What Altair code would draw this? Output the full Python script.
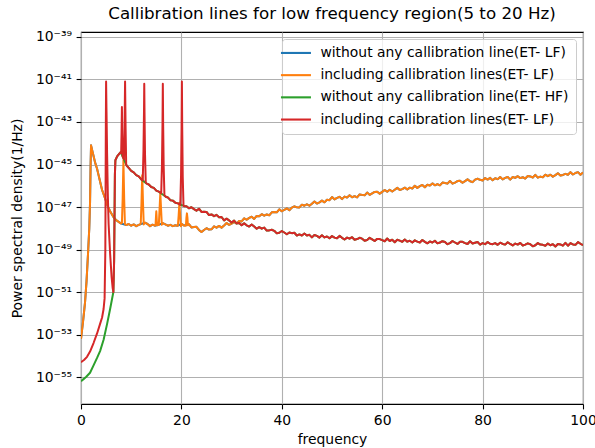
import altair as alt
import pandas as pd

# ---------------- data (frequency in Hz, PSD given as log10 exponent) ----------------
# ET-LF without calibration lines, 0 - 21 Hz
lf_low_freq = [0, 0.4, 0.8, 1.1, 1.4, 1.65, 1.8, 1.9, 2.0, 2.2,
               2.5, 2.8, 3.2, 3.5, 3.8, 4.2, 4.8, 5.3, 5.8, 6.4,
               7.0, 7.5, 8.0, 9.0, 9.5, 10.0, 10.5, 11.0, 11.5, 12.75,
               13.25, 13.75, 14.25, 14.7, 15.3, 16.3, 16.8, 17.3, 17.8, 18.3,
               18.8, 19.15, 20.1, 20.5]
lf_low_exp = [-53.2, -52.4, -51.5, -50.5, -49.2, -48.0, -46.8, -45.2, -44.1, -44.3,
              -44.6, -44.9, -45.2, -45.5, -45.8, -46.2, -46.6, -46.95, -47.2, -47.45,
              -47.62, -47.7, -47.78, -47.85, -47.8, -47.88, -47.82, -47.9, -47.84, -47.74,
              -47.8, -47.9, -47.83, -47.88, -47.85, -47.76, -47.82, -47.88, -47.84, -47.9,
              -47.86, -47.88, -47.8, -47.87]
# ET-LF without calibration lines, 21.5 - 100 Hz, sampled every 0.5 Hz
lf_high_start, lf_high_step = 21.5, 0.5
lf_high_exp = [
    -47.81, -47.96, -47.94, -47.93, -48.08, -48.18, -48.08, -48.0, -48.06, -48.05,
    -47.91, -47.97, -47.89, -47.97, -47.87, -47.75, -47.84, -47.78, -47.7, -47.78,
    -47.66, -47.68, -47.53, -47.6, -47.51, -47.46, -47.56, -47.42, -47.44, -47.34,
    -47.41, -47.35, -47.39, -47.25, -47.24, -47.25, -47.11, -47.2, -47.13, -47.06,
    -47.15, -47.03, -46.97, -47.01, -47.02, -46.89, -46.94, -46.87, -46.94, -46.85,
    -46.74, -46.84, -46.78, -46.7, -46.78, -46.66, -46.68, -46.53, -46.64, -46.57,
    -46.52, -46.63, -46.51, -46.55, -46.45, -46.54, -46.49, -46.55, -46.41, -46.43,
    -46.45, -46.32, -46.43, -46.36, -46.29, -46.28, -46.37, -46.29, -46.2, -46.28,
    -46.19, -46.27, -46.19, -46.1, -46.2, -46.16, -46.09, -46.18, -46.09, -46.13,
    -46.0, -46.1, -46.02, -45.96, -46.07, -45.95, -45.99, -45.89, -45.98, -45.92,
    -45.98, -45.85, -45.87, -45.9, -45.78, -45.9, -45.85, -45.78, -45.77, -45.86,
    -45.78, -45.7, -45.79, -45.83, -45.71, -45.67, -45.72, -45.75, -45.64, -45.71,
    -45.63, -45.74, -45.65, -45.69, -45.59, -45.7, -45.63, -45.59, -45.71, -45.59,
    -45.63, -45.55, -45.64, -45.6, -45.66, -45.54, -45.56, -45.61, -45.49, -45.62,
    -45.57, -45.6, -45.48, -45.55, -45.48, -45.57, -45.5, -45.41, -45.52, -45.49,
    -45.44, -45.48, -45.36, -45.47, -45.4, -45.36, -45.48, -45.37]
# ET-LF calibration line points (added on top of the LF baseline)
lf_line_freq = [8.15, 8.3, 8.4, 8.45, 8.5, 8.6, 8.75,
                11.9, 12.05, 12.15, 12.2, 12.25, 12.35, 12.5,
                14.85, 14.95, 15.0, 15.05, 15.15,
                15.5, 15.65, 15.75, 15.8, 15.85, 15.95, 16.1,
                19.3, 19.45, 19.55, 19.6, 19.65, 19.75, 19.9,
                20.9, 21.0, 21.1, 21.2, 21.3]
lf_line_exp = [-47.75, -46.6, -45.4, -44.8, -45.4, -46.6, -47.8,
               -47.8, -46.8, -45.9, -45.5, -45.9, -46.8, -47.82,
               -47.85, -47.4, -47.2, -47.4, -47.86,
               -47.85, -47.1, -46.6, -46.35, -46.6, -47.1, -47.84,
               -47.88, -47.4, -47.0, -46.8, -47.0, -47.4, -47.9,
               -47.88, -47.5, -47.3, -47.5, -47.86]

# ET-HF without calibration lines, 0 - 6.45 Hz
hf_low_freq = [0, 0.5, 1.0, 1.8, 2.5, 3.2, 3.8, 4.5, 5.2, 5.8, 6.45]
hf_low_exp = [-55.2, -55.1, -55.0, -54.8, -54.45, -54.1, -53.78, -53.25, -52.5, -51.8, -51.0]
# ET-HF baseline shared by both HF-shaped curves, 6.6 - 21.5 Hz
hf_mid_freq = [6.6, 6.75, 6.85, 7.2, 7.6, 7.9, 9.1, 9.5, 10.0, 10.5,
               11.0, 11.5, 12.0, 13.1, 13.5, 14.0, 14.5, 15.0, 15.5, 16.9,
               17.3, 17.8, 18.3, 18.8, 19.3, 20.7, 21.0, 21.5]
hf_mid_exp = [-49.5, -45.5, -44.8, -44.62, -44.5, -44.42, -45.05, -45.16, -45.3, -45.37,
              -45.5, -45.56, -45.7, -45.9, -45.94, -46.06, -46.1, -46.23, -46.28, -46.52,
              -46.55, -46.68, -46.7, -46.8, -46.83, -46.97, -46.96, -47.06]
# ET-HF baseline, 22 - 100 Hz, sampled every 0.5 Hz
hf_high_start, hf_high_step = 22.0, 0.5
hf_high_exp = [
    -47.01, -47.1, -47.17, -47.08, -47.23, -47.22, -47.23, -47.38, -47.35, -47.43,
    -47.37, -47.48, -47.47, -47.63, -47.55, -47.63, -47.73, -47.64, -47.77, -47.75,
    -47.86, -47.77, -47.86, -47.92, -47.82, -47.92, -48.02, -47.95, -48.02, -47.97,
    -48.11, -48.1, -48.07, -48.12, -48.24, -48.21, -48.13, -48.2, -48.28, -48.2,
    -48.23, -48.21, -48.34, -48.29, -48.34, -48.25, -48.34, -48.31, -48.43, -48.32,
    -48.36, -48.44, -48.33, -48.43, -48.39, -48.47, -48.37, -48.44, -48.47, -48.36,
    -48.45, -48.53, -48.44, -48.49, -48.42, -48.54, -48.51, -48.45, -48.49, -48.59,
    -48.55, -48.45, -48.52, -48.6, -48.5, -48.51, -48.56, -48.61, -48.48, -48.6,
    -48.54, -48.66, -48.54, -48.58, -48.64, -48.53, -48.63, -48.59, -48.67, -48.57,
    -48.63, -48.67, -48.55, -48.64, -48.71, -48.62, -48.67, -48.59, -48.71, -48.67,
    -48.61, -48.65, -48.75, -48.7, -48.6, -48.67, -48.74, -48.64, -48.64, -48.7,
    -48.74, -48.61, -48.72, -48.68, -48.65, -48.77, -48.7, -48.75, -48.65, -48.73,
    -48.75, -48.7, -48.78, -48.68, -48.74, -48.77, -48.66, -48.74, -48.81, -48.72,
    -48.77, -48.69, -48.81, -48.77, -48.71, -48.75, -48.85, -48.8, -48.7, -48.77,
    -48.78, -48.82, -48.72, -48.8, -48.75, -48.86, -48.74, -48.76, -48.82, -48.69,
    -48.82, -48.7, -48.76, -48.78, -48.65, -48.73, -48.79]
# Curve with calibration lines (red), low-frequency part incl. the 5 Hz line
red_low_freq = [0, 0.6, 1.2, 1.8, 2.5, 3.2, 3.8, 4.2, 4.5, 4.7,
                4.85, 4.95, 5.0, 5.08, 5.2, 5.35, 5.5, 5.8, 6.1, 6.3, 6.45]
red_low_exp = [-54.3, -54.2, -54.05, -53.8, -53.4, -52.95, -52.5, -52.2, -51.8, -51.3,
               -49.0, -43.0, -41.1, -42.5, -44.5, -46.5, -47.8, -49.2, -50.3, -50.8, -51.0]
# Red calibration line points (added on top of the HF baseline)
red_line_freq = [8.0, 8.08, 8.15, 8.22, 8.3, 8.55, 8.68, 8.78, 8.88, 9.0,
                 12.3, 12.45, 12.55, 12.6, 12.65, 12.75, 12.9,
                 15.98, 16.13, 16.24, 16.3, 16.36, 16.47, 16.62,
                 19.78, 19.93, 20.04, 20.1, 20.16, 20.27, 20.42]
red_line_exp = [-44.47, -43.5, -42.3, -43.6, -44.63, -44.76, -43.2, -41.1, -43.2, -45.0,
                -45.75, -44.3, -42.5, -41.2, -42.5, -44.5, -45.85,
                -46.35, -45.0, -43.0, -41.2, -43.0, -45.1, -46.45,
                -46.9, -45.5, -43.2, -41.1, -43.2, -45.6, -46.95]

series_keys = ["s1", "s2", "s3", "s4"]
series_labels = ["without any callibration line(ET- LF)",
                 "including callibration lines(ET- LF)",
                 "without any callibration line(ET- HF)",
                 "including callibration lines(ET- LF)"]
series_colors = ["#1f77b4", "#ff7f0e", "#2ca02c", "#d62728"]

x_ticks = [0, 20, 40, 60, 80, 100]
y_tick_exps = [-55, -53, -51, -49, -47, -45, -43, -41, -39]
y_tick_labels = ["10⁻⁵⁵", "10⁻⁵³", "10⁻⁵¹", "10⁻⁴⁹", "10⁻⁴⁷",
                 "10⁻⁴⁵", "10⁻⁴³", "10⁻⁴¹", "10⁻³⁹"]
y_domain_exp = [-56.27, -38.765]

title_text = "Callibration lines for low frequency region(5 to 20 Hz)"
x_title = "frequency"
y_title = "Power spectral density(1/Hz)"

# ---------------- build tables ----------------
lf_high_freq = [lf_high_start + lf_high_step * i for i in range(len(lf_high_exp))]
hf_high_freq = [hf_high_start + hf_high_step * i for i in range(len(hf_high_exp))]


def frame(key, freq, exp):
    d = pd.DataFrame({"freq": freq, "exp": exp})
    d = d.sort_values("freq").reset_index(drop=True)
    d["psd"] = [10.0 ** e for e in d["exp"]]
    d["series"] = key
    return d


blue_df = frame("s1", lf_low_freq + lf_high_freq, lf_low_exp + lf_high_exp)
orange_df = frame("s2", lf_low_freq + lf_high_freq + lf_line_freq,
                  lf_low_exp + lf_high_exp + lf_line_exp)
green_df = frame("s3", hf_low_freq + hf_mid_freq + hf_high_freq,
                 hf_low_exp + hf_mid_exp + hf_high_exp)
red_df = frame("s4", red_low_freq + hf_mid_freq + hf_high_freq + red_line_freq,
               red_low_exp + hf_mid_exp + hf_high_exp + red_line_exp)

FONT = "DejaVu Sans"

y_label_expr = " : ".join(
    f"round(log(datum.value)/LN10) == {e} ? '{lab}'" for e, lab in zip(y_tick_exps, y_tick_labels)
) + " : ''"
legend_label_expr = " : ".join(
    f"datum.label == '{k}' ? '{lab}'" for k, lab in zip(series_keys, series_labels)
) + " : ''"

x_enc = alt.X("freq:Q",
              scale=alt.Scale(domain=[0, 100], nice=False, zero=False),
              axis=alt.Axis(values=x_ticks, title=x_title, format="d",
                            grid=True, gridColor="#b0b0b0", gridWidth=1.1,
                            domain=False, tickColor="black", tickSize=4.9, tickWidth=1.1,
                            labelFont=FONT, labelFontSize=13.9, labelColor="black",
                            labelPadding=4.5, labelFlush=False,
                            titleFont=FONT, titleFontSize=13.9, titleFontWeight="normal",
                            titleColor="black", titleY=35, titleBaseline="middle"))
y_enc = alt.Y("psd:Q",
              scale=alt.Scale(type="log", domain=[10.0 ** y_domain_exp[0], 10.0 ** y_domain_exp[1]],
                              nice=False),
              axis=alt.Axis(values=[10.0 ** e for e in y_tick_exps], labelExpr=y_label_expr,
                            title=y_title,
                            grid=True, gridColor="#b0b0b0", gridWidth=1.1,
                            domain=False, tickColor="black", tickSize=4.9, tickWidth=1.1,
                            labelFont=FONT, labelFontSize=13.9, labelColor="black",
                            labelPadding=4.5, labelFlush=False,
                            titleFont=FONT, titleFontSize=13.9, titleFontWeight="normal",
                            titleColor="black", titleX=-64, titleY=186,
                            titleAlign="center", titleBaseline="middle", titleAngle=-90))
color_enc = alt.Color("series:N",
                      scale=alt.Scale(domain=series_keys, range=series_colors),
                      legend=alt.Legend(title=None, orient="top-right", offset=7,
                                        labelExpr=legend_label_expr,
                                        symbolType="M-3,0H3", symbolSize=100,
                                        symbolStrokeWidth=2.1,
                                        labelFont=FONT, labelFontSize=13.9, labelColor="black",
                                        labelLimit=500, labelOffset=17.5, padding=7,
                                        rowPadding=7.2,
                                        fillColor="rgba(255,255,255,0.8)", strokeColor="#cccccc",
                                        cornerRadius=3))

layers = [
    alt.Chart(d).mark_line(strokeWidth=2.0, clip=True, strokeJoin="round").encode(
        x=x_enc, y=y_enc, color=color_enc)
    for d in [blue_df, orange_df, green_df, red_df]
]

chart = alt.layer(*layers).properties(
    width=502, height=372,
    title=alt.TitleParams(text=title_text, font=FONT, fontSize=16.7, fontWeight="normal",
                          color="black", anchor="middle", offset=7),
    autosize=alt.AutoSizeParams(type="none"),
    padding={"left": 81, "top": 32, "right": 12, "bottom": 44},
).configure_view(stroke="black", strokeWidth=1.1)

chart.save("out.html", embed_options={"renderer": "svg", "actions": False})
